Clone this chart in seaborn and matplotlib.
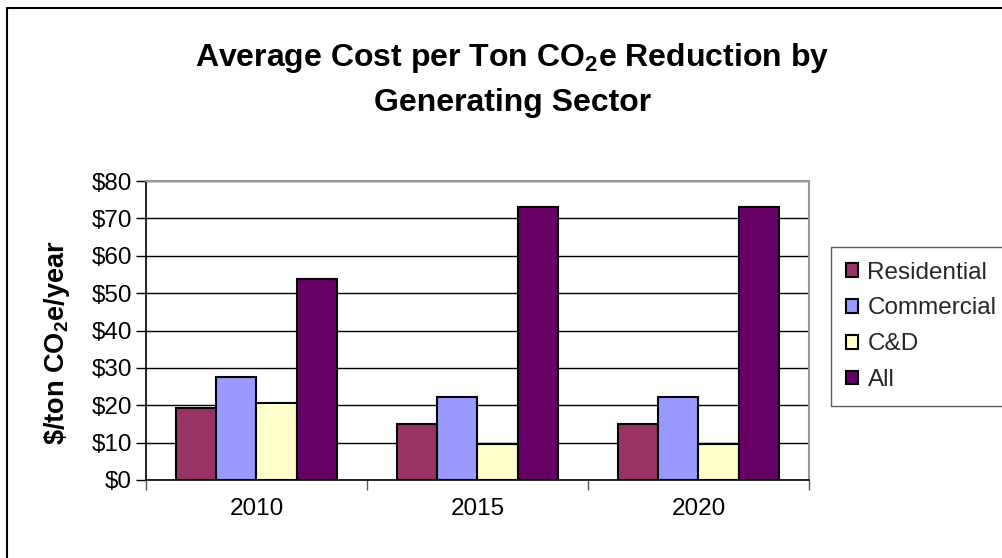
import matplotlib
matplotlib.use("Agg")
import matplotlib.pyplot as plt
from matplotlib.lines import Line2D
from matplotlib.ticker import FuncFormatter, FixedLocator
import seaborn as sns
import pandas as pd

# Average cost per ton CO2e reduced, by sector and year
years = ["2010", "2015", "2020"]
sectors = ["Residential", "Commercial", "C&D", "All"]
residential = [19.3, 14.9, 14.9]
commercial = [27.6, 22.3, 22.3]
c_and_d = [20.7, 9.7, 9.7]
all_sectors = [53.7, 73.1, 73.1]
sector_colors = ["#993366", "#9999FF", "#FFFFCC", "#660066"]
y_ticks = [0, 10, 20, 30, 40, 50, 60, 70, 80]

df = pd.DataFrame({
    "year": years * 4,
    "sector": [s for s in sectors for _ in years],
    "cost": residential + commercial + c_and_d + all_sectors,
})

sns.set_theme(style="white")
plt.rcParams["font.family"] = ["Liberation Sans", "DejaVu Sans"]
plt.rcParams["mathtext.fontset"] = "custom"
plt.rcParams["mathtext.rm"] = "Liberation Sans:bold"
plt.rcParams["mathtext.it"] = "Liberation Sans:bold"
plt.rcParams["mathtext.bf"] = "Liberation Sans:bold"

W, H = 1003, 558
fig = plt.figure(figsize=(W / 100, H / 100), dpi=100)
fig.patch.set_facecolor("white")
ax = fig.add_axes([146 / W, (H - 480) / H, (809 - 146) / W, (480 - 181) / H])

sns.barplot(data=df, x="year", y="cost", hue="sector", hue_order=sectors,
            palette=sector_colors, saturation=1, width=4 / 5.5,
            edgecolor="black", linewidth=1.5, ax=ax)

ax.set_xlim(-0.5, 2.5)
ax.set_ylim(0, 80)
ax.set_xlabel("")
ax.set_ylabel("")

# y axis: dollar ticks with black gridlines
ax.yaxis.set_major_locator(FixedLocator(y_ticks))
ax.yaxis.set_major_formatter(FuncFormatter(lambda v, p: f"${v:.0f}"))
ax.yaxis.grid(True, color="black", linewidth=1)
ax.set_axisbelow(True)
ax.tick_params(axis="y", which="major", left=True, direction="out",
               length=7, width=1, color="black", pad=3, labelsize=17.5,
               labelcolor="black")

# x axis: ticks between categories, labels at the centres
ax.xaxis.set_major_locator(FixedLocator([-0.5, 0.5, 1.5, 2.5]))
ax.xaxis.set_minor_locator(FixedLocator([0, 1, 2]))
ax.set_xticklabels([], minor=False)
ax.set_xticklabels(years, minor=True)
ax.tick_params(axis="x", which="major", bottom=True, direction="out",
               length=7, width=1, color="#555555")
ax.tick_params(axis="x", which="minor", bottom=True, length=0, pad=13,
               labelsize=17.5, labelcolor="black")

for side in ("top", "right"):
    ax.spines[side].set_color("#999999")
    ax.spines[side].set_linewidth(1.5)
for side in ("left", "bottom"):
    ax.spines[side].set_color("black")
    ax.spines[side].set_linewidth(1.2)

# legend
handles, labels = ax.get_legend_handles_labels()
if ax.legend_:
    ax.legend_.remove()
leg = fig.legend(handles, labels, loc="upper left",
                 bbox_to_anchor=(831 / W, 1 - 247 / H),
                 frameon=True, fancybox=False, fontsize=17.5,
                 handlelength=0.5, handleheight=0.5, handletextpad=0.4,
                 labelspacing=0.57, borderpad=0.6, borderaxespad=0)
leg.get_frame().set_edgecolor("#333333")
leg.get_frame().set_linewidth(1)

# titles
fig.text(0.511, 1 - 58 / H, "Average Cost per Ton CO$_\\mathregular{2}$e Reduction by",
         ha="center", va="center", fontsize=23, fontweight="bold", color="black")
fig.text(0.511, 1 - 103 / H, "Generating Sector",
         ha="center", va="center", fontsize=23, fontweight="bold", color="black")
fig.text(57 / W, 1 - 343 / H, "\\$/ton CO$_\\mathregular{2}$e/year",
         ha="center", va="center", rotation=90, fontsize=19.5,
         fontweight="bold", color="black")

# chart-area frame (left and top edges)
fig.add_artist(Line2D([7 / W, 7 / W], [0, 1 - 8 / H], transform=fig.transFigure,
                      color="black", linewidth=1.5))
fig.add_artist(Line2D([7 / W, 1], [1 - 8 / H, 1 - 8 / H], transform=fig.transFigure,
                      color="black", linewidth=1.5))

fig.savefig("out.png", dpi=100)
